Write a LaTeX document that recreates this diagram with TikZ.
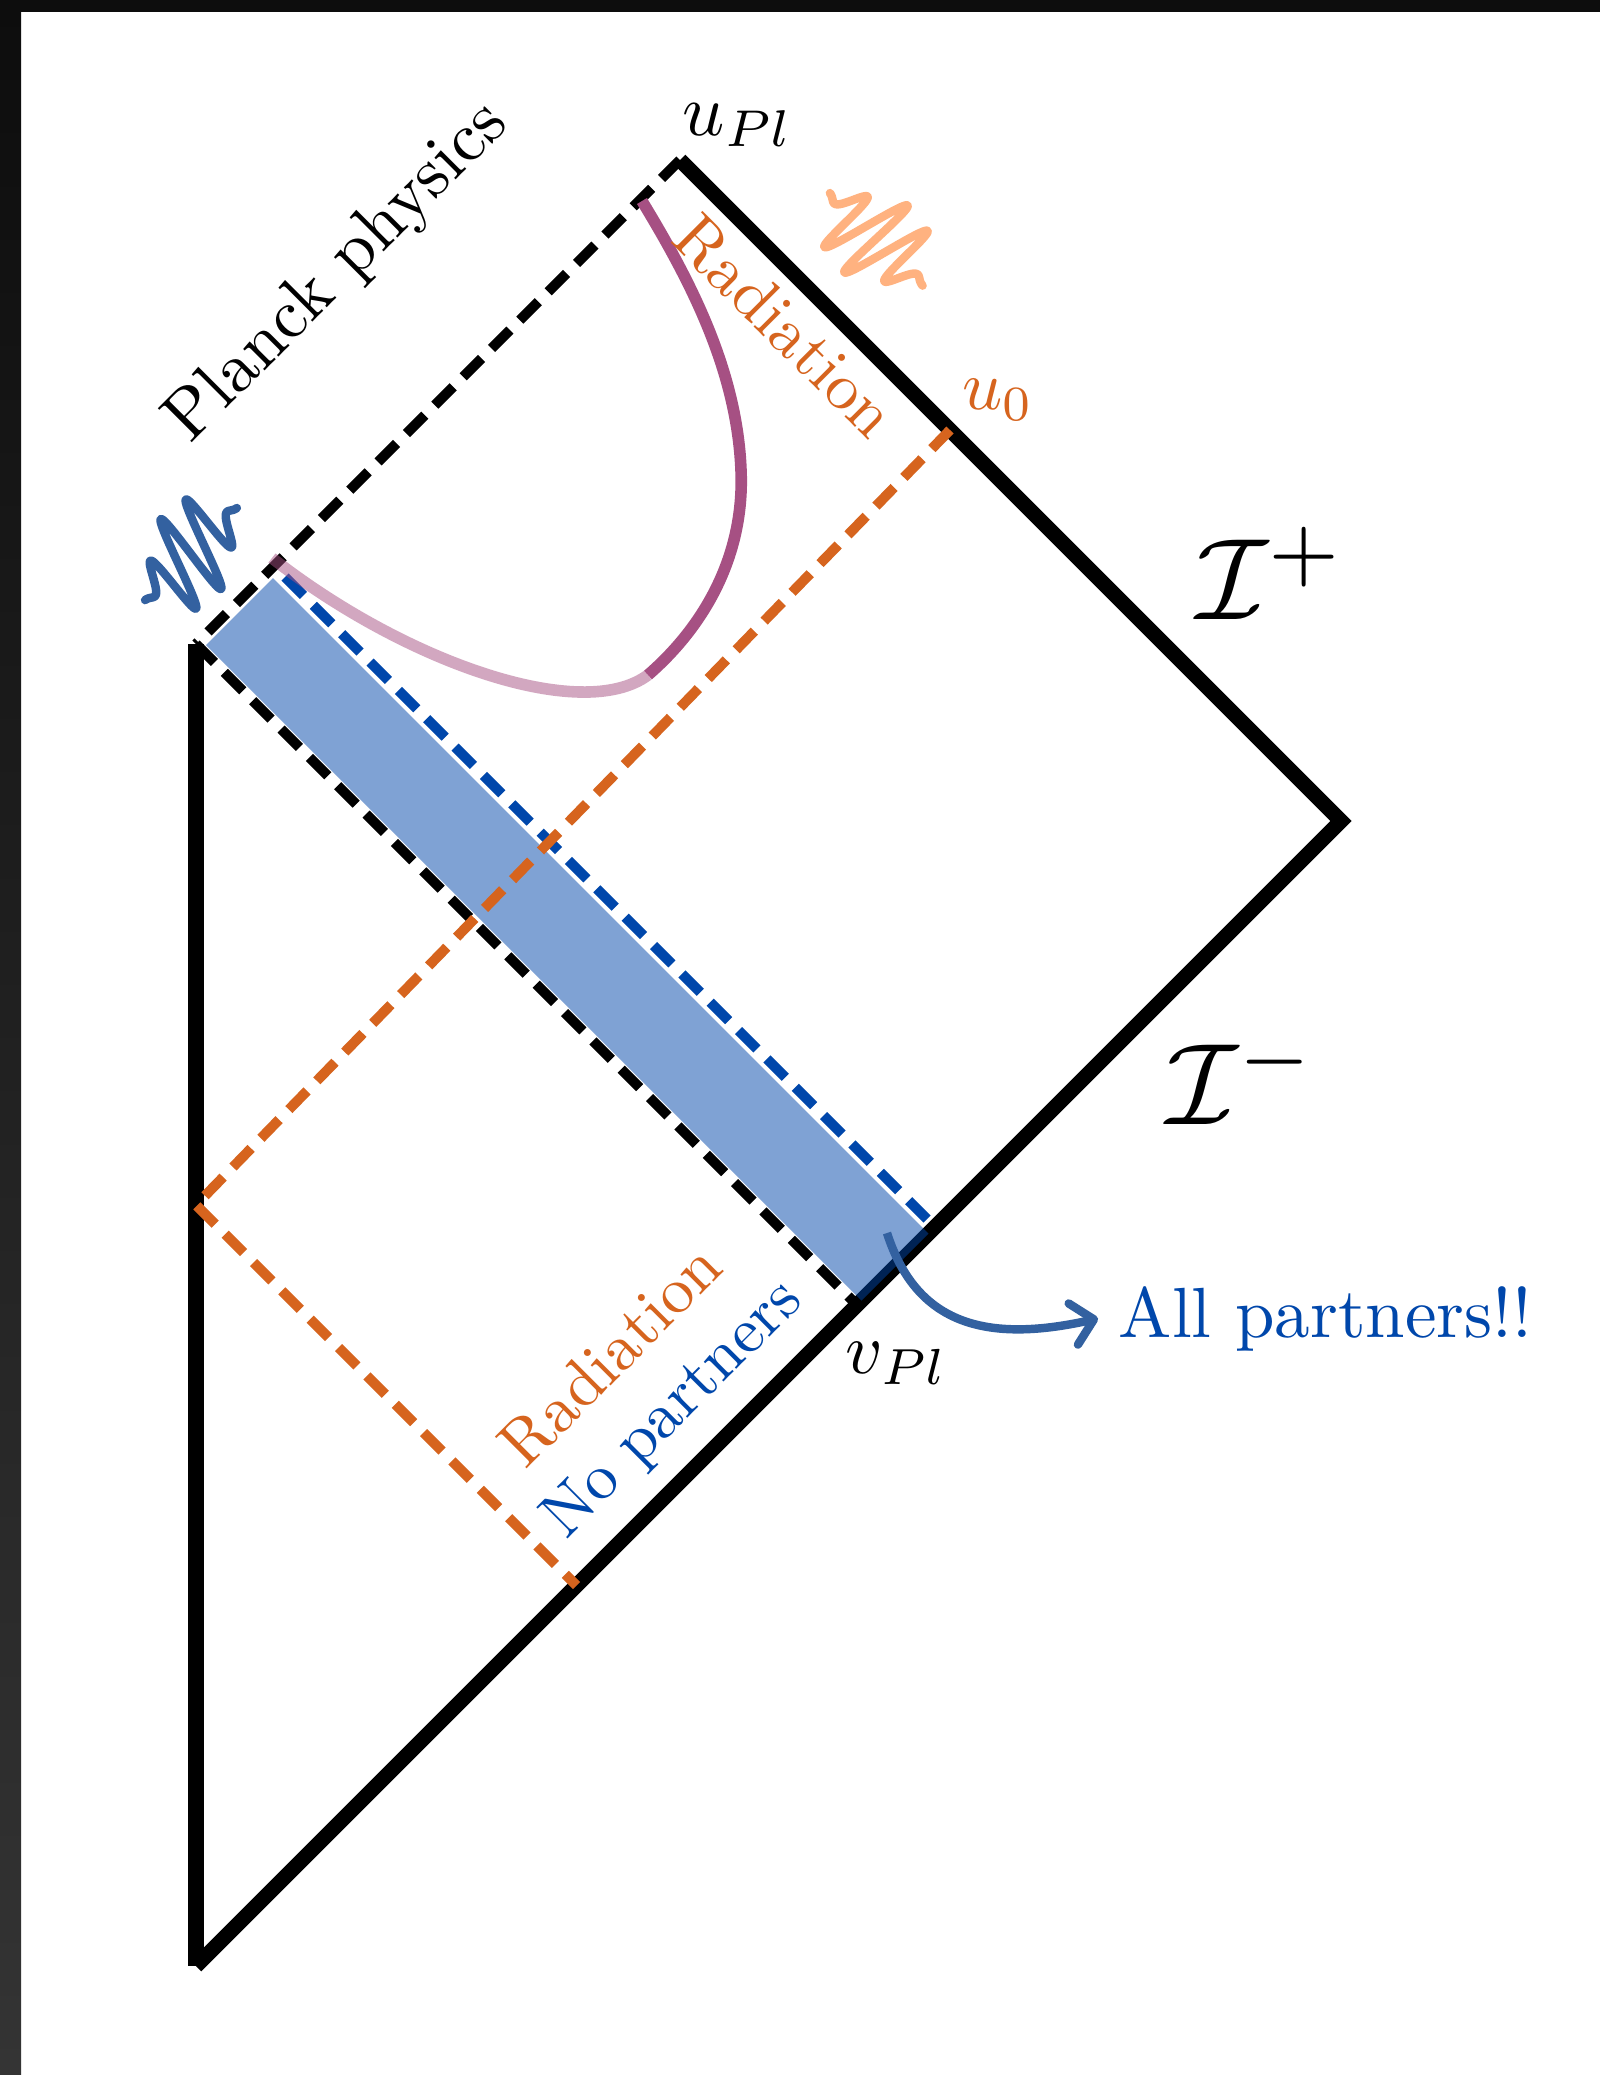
\RequirePackage{fix-cm}
\documentclass[tikz,border=0pt]{standalone}
\usepackage{graphicx}
\usetikzlibrary{arrows.meta}
\definecolor{orng}{RGB}{214,100,30}
\definecolor{cobalt}{RGB}{0,71,171}
\definecolor{plum}{RGB}{166,80,131}
\definecolor{peach}{RGB}{255,178,128}
\definecolor{steel}{RGB}{51,97,160}
\definecolor{edgedark}{RGB}{13,13,13}
\definecolor{edgegray}{RGB}{52,52,52}
\begin{document}
\begin{tikzpicture}[x=0.01cm,y=-0.01cm,
  solidedge/.style={line width=4.27pt},
  dashedge/.style={line width=2.85pt, dash pattern=on 7.4pt off 4pt},
  curveline/.style={plum, line width=3.3pt},
  waveline/.style={line width=2.4pt, line cap=round, line join=round},
  declare function={wv(\t)=46*exp(-((((\t-65)*(\t-65))/2025)^2))*sin(10.9*(\t-65));}]
\fill[white] (0,0) rectangle (1600,2075);
\useasboundingbox (0,0) rectangle (1600,2075);
\shade[top color=edgedark,bottom color=edgegray] (0,0) rectangle (21,2075);
\fill[edgedark] (0,0) rectangle (1600,12);

% vertices
\coordinate (T) at (680,160);
\coordinate (L) at (196,644);
\coordinate (B) at (196,1966);
\coordinate (R) at (1341,821);
\coordinate (V) at (857,1305);
\coordinate (U) at (950,430);
\coordinate (C) at (196,1205);
\coordinate (E) at (576.5,1585.5);
\coordinate (A1) at (206,645);
\coordinate (A2) at (273,578);
\coordinate (A3) at (928.5,1233.5);
\coordinate (A4) at (861.5,1300.5);
\coordinate (S1) at (285,577);
\coordinate (S2) at (935,1227);

% solid boundary
\draw[solidedge, line join=miter] (T) -- (R) -- (B);
\draw[solidedge] (L) -- (B);

% band
\fill[cobalt, opacity=.5] (A1) -- (A2) -- (A3) -- (A4) -- cycle;

% dashed lines
\draw[dashedge] (T) -- (L);
\draw[dashedge] (L) -- (V);
\draw[dashedge, cobalt] (S1) -- (S2);

% curve
\coordinate (K0) at (272,558);
\coordinate (K1) at (648,675);
\coordinate (K2) at (741,470);
\coordinate (K3) at (642,201);
\draw[curveline, opacity=.5] (K0) .. controls (405,662) and (582,724) .. (K1);
\draw[curveline] (K1) .. controls (700,630) and (745,560) .. (K2) .. controls (737,370) and (690,280) .. (K3);

% orange dashed
\draw[dashedge, orng, line join=miter] (U) -- (C) -- (E);

% waves
\begin{scope}[shift={(145,600)}, rotate=45]
\draw[waveline, steel] plot[domain=0:130, samples=260, smooth] ({\x-0.25*wv(\x)}, {wv(\x)});
\end{scope}
\begin{scope}[shift={(830,193)}, rotate=-45]
\draw[waveline, peach] plot[domain=0:131, samples=260, smooth] ({\x-0.15*wv(\x)}, {wv(\x)});
\end{scope}

% labels
\node[rotate=45] (planck) at (338,273) {\scalebox{2.0}{Planck physics}};
\node[rotate=-45, text=orng] (radU) at (785,326) {\scalebox{1.87}{Radiation}};
\node[rotate=45, text=orng] (radL) at (610,1355) {\scalebox{1.87}{Radiation}};
\node[rotate=45, text=cobalt] (nopart) at (674,1410) {\scalebox{1.84}{No partners}};
\node (uPl) at (738,125) {\scalebox{2.1}{$u_{Pl}$}};
\node[text=orng] (uzero) at (998,400) {\scalebox{2.0}{$u_0$}};
\node (vPl) at (897,1363) {\scalebox{2.06}{$v_{Pl}$}};
\node (Iplus) at (1271,573) {\scalebox{3.3}{$\mathcal{I}^+$}};
\node (Iminus) at (1242,1078) {\scalebox{3.3}{$\mathcal{I}^-$}};
\node[text=cobalt, anchor=base west, inner xsep=5.7pt] (allp) at (1098,1337) {\scalebox{2.02}{All partners!!}};

% arrow
\coordinate (arrS) at (887,1233);
\draw[steel, line width=2.4pt, -{Straight Barb[length=6pt,width=12pt,round]}] (arrS) .. controls (915,1320) and (980,1345) .. (allp.west);
\end{tikzpicture}
\end{document}
